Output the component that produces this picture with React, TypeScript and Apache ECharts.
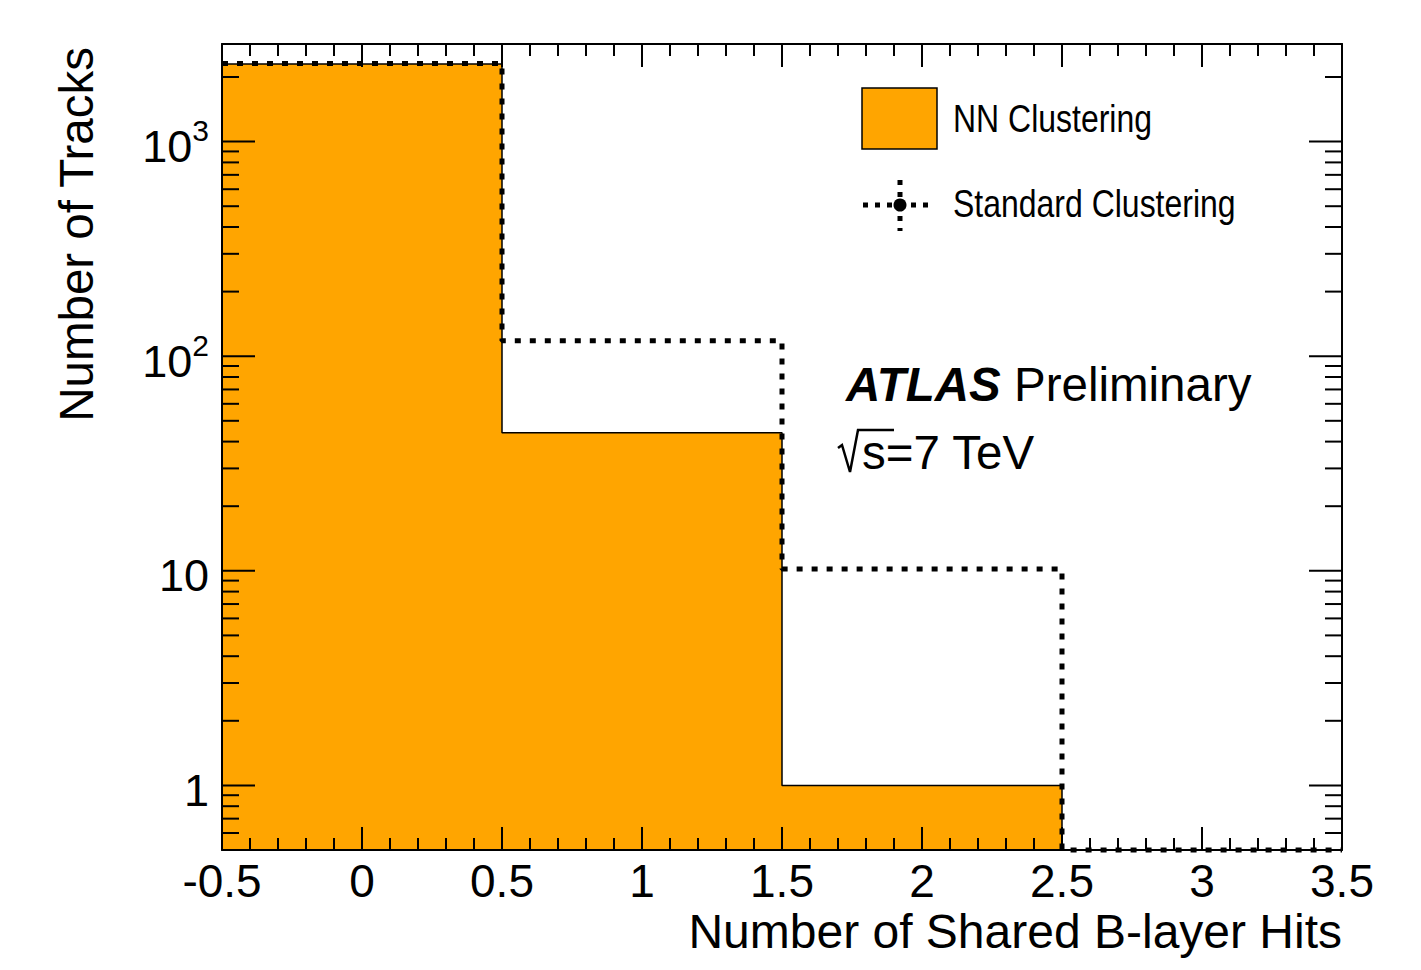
import React, { useEffect, useRef } from "react";
import * as echarts from "echarts";

// ---- data ----
const binEdges = [-0.5, 0.5, 1.5, 2.5, 3.5];
const nnCounts = [2300, 44, 1, 0];
const stdCounts = [2310, 118, 10.2, 0];
const yMin = 0.5;
const yMax = 2850;
const xMin = -0.5;
const xMax = 3.5;
const decades = [0.1, 1, 10, 100, 1000];
const minorMult = [1, 2, 3, 4, 5, 6, 7, 8, 9];

const FONT = "'Liberation Sans', Arial, Helvetica, sans-serif";

function stepData(counts: number[]) {
  return binEdges.map((e, i) => {
    const c = counts[Math.min(i, counts.length - 1)];
    return [e, c > 0 ? c : yMin];
  });
}

const yTicks: number[] = [];
decades.forEach((d) =>
  minorMult.forEach((m) => {
    const v = +(d * m).toPrecision(6);
    if (v >= yMin && v <= yMax) yTicks.push(v);
  })
);

function isMajor(v: number) {
  const l = Math.log10(v);
  return Math.abs(l - Math.round(l)) < 1e-9;
}

export default function App() {
  const ref = useRef<HTMLDivElement>(null);
  useEffect(() => {
    document.body.style.margin = "0";
    const chart = echarts.init(ref.current!, null, { renderer: "svg" });
    const xAxisCommon = {
      type: "value",
      min: xMin,
      max: xMax,
      interval: 0.5,
      z: 3,
      axisLine: { show: true, onZero: false, lineStyle: { color: "#000", width: 2 } },
      axisTick: { show: true, inside: true, length: 23, lineStyle: { color: "#000", width: 2 } },
      minorTick: { show: true, splitNumber: 5, length: 12, lineStyle: { color: "#000", width: 2 } },
      splitLine: { show: false },
      minorSplitLine: { show: false },
    };
    const option: any = {
      animation: false,
      textStyle: { fontFamily: FONT },
      grid: { left: 222, right: 79, top: 44, bottom: 120, containLabel: false },
      xAxis: [
        {
          ...xAxisCommon,
          position: "bottom",
          axisLabel: { show: true, fontSize: 46, color: "#000", fontFamily: FONT, margin: 8 },
        },
        {
          ...xAxisCommon,
          position: "top",
          axisLabel: { show: false },
        },
      ],
      yAxis: [
        {
          type: "log",
          logBase: 10,
          min: yMin,
          max: yMax,
          position: "left",
          z: 3,
          axisLine: { show: true, onZero: false, lineStyle: { color: "#000", width: 2 } },
          axisTick: { show: false },
          minorTick: { show: false },
          splitLine: { show: false },
          axisLabel: {
            show: true,
            fontSize: 45,
            color: "#000",
            fontFamily: FONT,
            margin: 13,
            padding: [10, 0, 0, 0],
            formatter: (v: number) => {
              if (!isMajor(v)) return "";
              const e = Math.round(Math.log10(v));
              if (e === 0) return "1";
              if (e === 1) return "10";
              return "10{s|" + e + "}";
            },
            rich: {
              s: { fontSize: 30, color: "#000", fontFamily: FONT, padding: [0, 0, 32, 0] },
            },
          },
        },
        {
          type: "log",
          logBase: 10,
          min: yMin,
          max: yMax,
          position: "right",
          z: 3,
          axisLine: { show: true, onZero: false, lineStyle: { color: "#000", width: 2 } },
          axisTick: { show: false },
          minorTick: { show: false },
          splitLine: { show: false },
          axisLabel: { show: false },
        },
      ],
      series: [
        {
          name: "NN Clustering",
          type: "line",
          step: "end",
          data: stepData(nnCounts),
          symbol: "none",
          clip: false,
          z: 2,
          lineStyle: { color: "#000", width: 1.5 },
          areaStyle: { color: "#ffa500", opacity: 1, origin: "start" },
        },
        {
          name: "Standard Clustering",
          type: "line",
          step: "end",
          data: stepData(stdCounts),
          symbol: "none",
          clip: false,
          z: 5,
          lineStyle: { color: "#000", width: 5, type: [6, 9], cap: "butt" },
        },
        {
          name: "yticks",
          type: "custom",
          clip: false,
          z: 4,
          silent: true,
          data: yTicks.map((v) => [xMin, v]),
          encode: { x: 0, y: 1 },
          renderItem: (params: any, api: any) => {
            const v = api.value(1);
            const pL = api.coord([xMin, v]);
            const pR = api.coord([xMax, v]);
            const len = isMajor(v) ? 33 : 17;
            const st = { stroke: "#000", lineWidth: 2 };
            return {
              type: "group",
              children: [
                { type: "line", shape: { x1: pL[0], y1: pL[1], x2: pL[0] + len, y2: pL[1] }, style: st },
                { type: "line", shape: { x1: pR[0], y1: pR[1], x2: pR[0] - len, y2: pR[1] }, style: st },
              ],
            };
          },
        },
      ],
      graphic: [
        {
          type: "rect",
          shape: { x: 862, y: 88, width: 75, height: 61 },
          style: { fill: "#ffa500", stroke: "#000", lineWidth: 1.5 },
          z: 10,
        },
        {
          type: "text",
          x: 953,
          y: 119,
          scaleX: 0.82,
          z: 10,
          style: { text: "NN Clustering", fontSize: 39, fontFamily: FONT, fill: "#000", verticalAlign: "middle" },
        },
        {
          type: "line",
          shape: { x1: 863, y1: 205, x2: 931, y2: 205 },
          style: { stroke: "#000", lineWidth: 5, lineDash: [5, 7] },
          z: 10,
        },
        {
          type: "line",
          shape: { x1: 900, y1: 180, x2: 900, y2: 231 },
          style: { stroke: "#000", lineWidth: 5, lineDash: [5, 7] },
          z: 10,
        },
        {
          type: "circle",
          shape: { cx: 900, cy: 205, r: 6.5 },
          style: { fill: "#000" },
          z: 10,
        },
        {
          type: "text",
          x: 953,
          y: 204,
          scaleX: 0.82,
          z: 10,
          style: { text: "Standard Clustering", fontSize: 39, fontFamily: FONT, fill: "#000", verticalAlign: "middle" },
        },
        {
          type: "text",
          x: 846,
          y: 384,
          z: 10,
          style: {
            text: "{a|ATLAS} Preliminary",
            fontSize: 47.5,
            fontFamily: FONT,
            fill: "#000",
            verticalAlign: "middle",
            rich: {
              a: { fontSize: 47.5, fontFamily: FONT, fontWeight: "bold", fontStyle: "italic", fill: "#000" },
            },
          },
        },
        {
          type: "polyline",
          shape: { points: [[838, 448], [842, 445], [850, 472], [858, 430], [894, 430]] },
          style: { stroke: "#000", lineWidth: 2.5, fill: null },
          z: 10,
        },
        {
          type: "text",
          x: 862,
          y: 452,
          z: 10,
          style: { text: "s=7 TeV", fontSize: 47.5, fontFamily: FONT, fill: "#000", verticalAlign: "middle" },
        },
        {
          type: "text",
          x: 1342,
          y: 931,
          z: 10,
          style: {
            text: "Number of Shared B-layer Hits",
            fontSize: 48,
            fontFamily: FONT,
            fill: "#000",
            align: "right",
            verticalAlign: "middle",
          },
        },
        {
          type: "text",
          x: 76,
          y: 47,
          rotation: Math.PI / 2,
          z: 10,
          style: {
            text: "Number of Tracks",
            fontSize: 47.5,
            fontFamily: FONT,
            fill: "#000",
            align: "right",
            verticalAlign: "middle",
          },
        },
      ],
    };
    chart.setOption(option);
    return () => chart.dispose();
  }, []);
  return (
    <div
      ref={ref}
      style={{ position: "fixed", left: 0, top: 0, width: 1421, height: 970, background: "#fff" }}
    />
  );
}
